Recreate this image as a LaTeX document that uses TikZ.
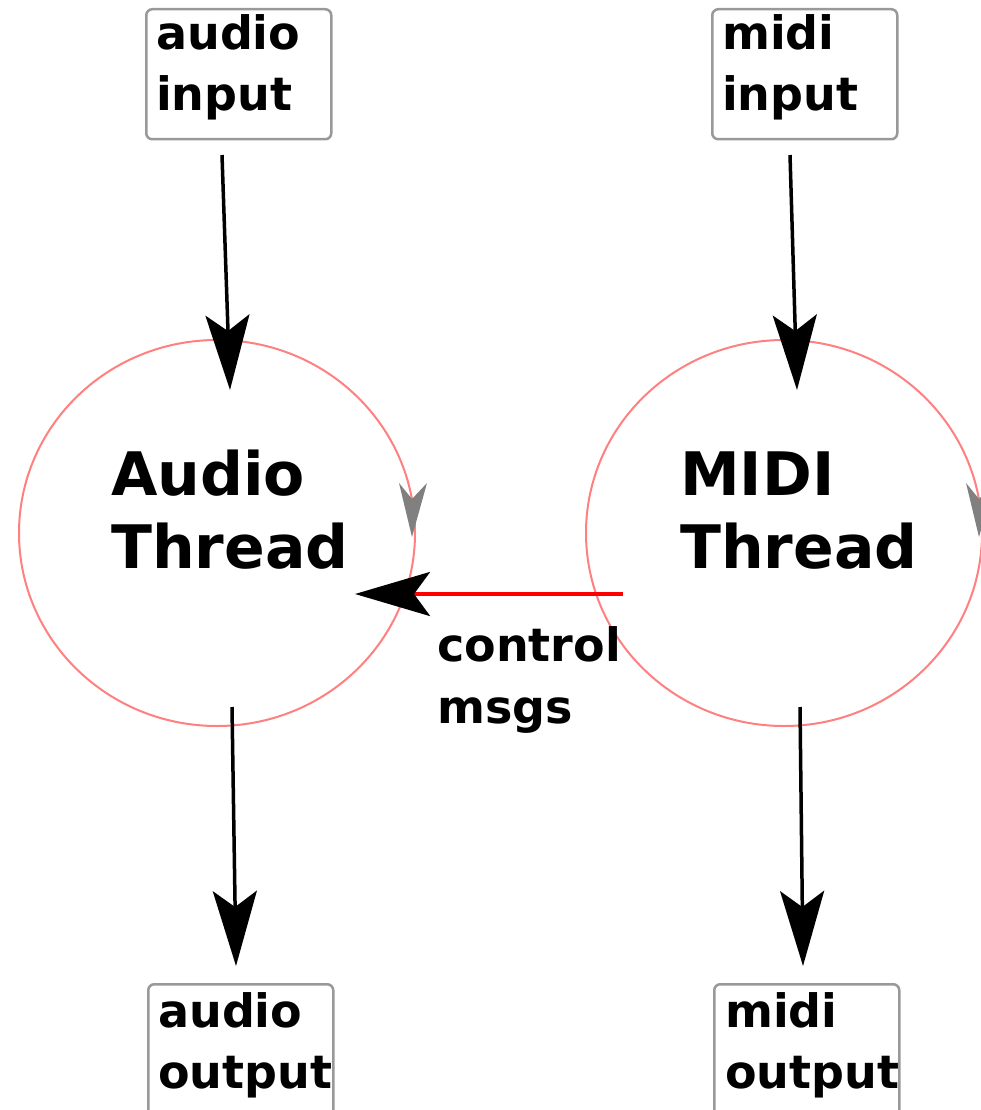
\documentclass[tikz,border=0pt]{standalone}
\usepackage{fontspec}
\setmainfont{DejaVu Sans}
\usetikzlibrary{arrows.meta,shapes.geometric}
\begin{document}
\begin{tikzpicture}[x=1pt,y=-1pt,
  iobox/.style={draw=black!40, line width=2.5pt, rounded corners=6pt, minimum width=185pt, minimum height=130pt, anchor=north west, inner sep=0pt},
  iotext/.style={anchor=base west, align=left, inner sep=0pt, font=\bfseries\fontsize{46}{61}\selectfont},
  thread/.style={draw=red!50, line width=2pt, ellipse, minimum width=396pt, minimum height=386pt, inner sep=0pt},
  threadtext/.style={anchor=base west, align=left, inner sep=0pt, font=\bfseries\fontsize{60}{73}\selectfont},
  flow/.style={line width=3.5pt, -{Stealth[length=75pt,width=44pt,inset=16pt]}},
  ctrl/.style={draw=red, line width=4pt, -{Stealth[length=75pt,width=44pt,inset=16pt,black]}},
  dirmark/.style={fill=black!50}
]
\useasboundingbox (0,0) rectangle (981,1110);
\clip (0,0) rectangle (981,1110);
\fill[white] (0,0) rectangle (981,1110);

% boxes
\node[iobox] (ain) at (145,8) {};
\node[iobox] (min) at (711,8) {};
\node[iobox, minimum height=150pt] (aout) at (147,983) {};
\node[iobox, minimum height=150pt] (mout) at (713,983) {};
\node[iotext] (aintxt) at (156,111) {audio\\input};
\node[iotext] (mintxt) at (722,111) {midi\\input};
\node[iotext] (aouttxt) at (158,1088) {audio\\output};
\node[iotext] (mouttxt) at (725,1088) {midi\\output};

% threads
\node[thread] (audio) at (217,533) {};
\node[thread] (midi) at (784,533) {};
\node[threadtext] (audiotxt) at (111,568) {Audio\\Thread};
\node[threadtext] (miditxt) at (680,568) {MIDI\\Thread};

% direction marks on circles
\fill[dirmark] (412,537) -- (399,483) -- (412,499) -- (427,483) -- cycle;
\fill[dirmark] (979,537) -- (966,483) -- (979,499) -- (994,483) -- cycle;

% connector coordinates
\coordinate (ain-out) at (222,155);
\coordinate (audio-in) at (230,390);
\coordinate (min-out) at (790,155);
\coordinate (midi-in) at (797,390);
\coordinate (audio-out) at (232,707);
\coordinate (aout-in) at (236,966);
\coordinate (midi-out) at (800,707);
\coordinate (mout-in) at (803,966);
\coordinate (ctrl-start) at (623,594);
\coordinate (ctrl-end) at (355,594);

\draw[flow] (ain-out) -- (audio-in);
\draw[flow] (min-out) -- (midi-in);
\draw[flow] (audio-out) -- (aout-in);
\draw[flow] (midi-out) -- (mout-in);
\draw[ctrl] (ctrl-start) -- (ctrl-end);

\node[iotext, font=\bfseries\fontsize{46}{62}\selectfont] (ctrltxt) at (437,723) {control\\msgs};
\end{tikzpicture}
\end{document}
